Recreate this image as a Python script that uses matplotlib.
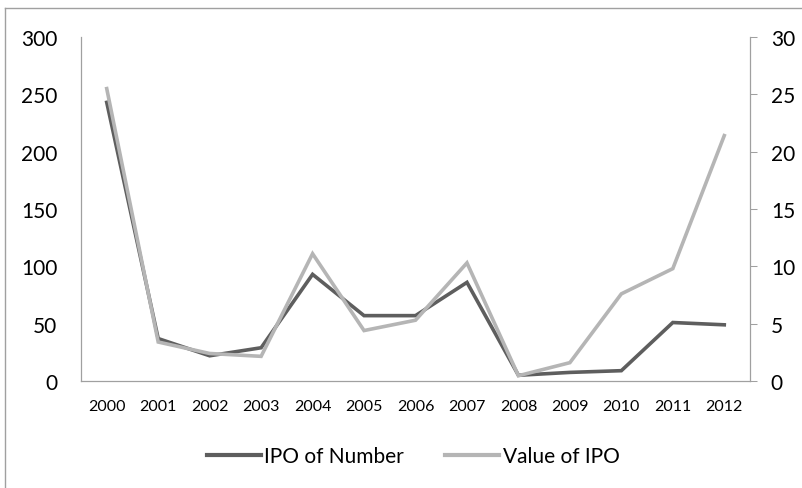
import matplotlib
matplotlib.use("Agg")
import matplotlib.pyplot as plt
from matplotlib.lines import Line2D

plt.rcParams['font.family'] = ['Lato', 'DejaVu Sans']

years = ["2000", "2001", "2002", "2003", "2004", "2005", "2006",
         "2007", "2008", "2009", "2010", "2011", "2012"]
ipo_number = [243, 37, 22, 29, 93, 57, 57, 86, 5, 7.5, 9, 51, 49]
ipo_value = [25.5, 3.4, 2.4, 2.15, 11.1, 4.4, 5.3, 10.3, 0.46, 1.6, 7.6, 9.8, 21.4]
left_ticks = [0, 50, 100, 150, 200, 250, 300]
right_ticks = [0, 5, 10, 15, 20, 25, 30]

dark = "#5e5e5e"
light = "#b5b5b5"
spine_c = "#a0a0a0"

W, H = 803, 489
fig = plt.figure(figsize=(W / 100, H / 100), dpi=100)
ax = fig.add_axes([81 / W, 1 - 382 / H, (750 - 81) / W, (382 - 38) / H])
ax2 = ax.twinx()

x = list(range(len(years)))
l1, = ax.plot(x, ipo_number, color=dark, lw=2.6, solid_joinstyle='miter',
              label="IPO of Number")
l2, = ax2.plot(x, ipo_value, color=light, lw=2.6, solid_joinstyle='miter',
               label="Value of IPO")

ax.set_xlim(-0.5, len(years) - 0.5)
ax.set_ylim(0, 300)
ax2.set_ylim(0, 30)
ax.set_xticks(x)
ax.set_xticklabels(years, fontsize=11.5)
ax.set_yticks(left_ticks)
ax.set_yticklabels([str(v) for v in left_ticks], fontsize=15)
ax2.set_yticks(right_ticks)
ax2.set_yticklabels([str(v) for v in right_ticks], fontsize=15)

ax.tick_params(axis='x', length=0, pad=13)
ax.tick_params(axis='y', length=0, pad=17)
ax2.tick_params(axis='y', length=5, width=0.75, color=spine_c, pad=10, direction='out')

for a in (ax, ax2):
    a.spines['top'].set_visible(False)
    for s in ('left', 'right', 'bottom'):
        a.spines[s].set_color(spine_c)
        a.spines[s].set_linewidth(0.9)
ax.spines['right'].set_visible(False)
ax2.spines['left'].set_visible(False)
ax2.spines['bottom'].set_visible(False)

# outer chart frame (cropped)
fig.add_artist(Line2D([5 / W, 5 / W], [0, 1 - 8.5 / H], transform=fig.transFigure,
                      color=spine_c, lw=1))
fig.add_artist(Line2D([5 / W, 1], [1 - 8.5 / H, 1 - 8.5 / H], transform=fig.transFigure,
                      color=spine_c, lw=1))

leg = fig.legend(handles=[l1, l2], loc='center', bbox_to_anchor=(413 / W, 1 - 457 / H),
                 ncol=2, frameon=False, fontsize=15, handlelength=2.6,
                 handletextpad=0.15, columnspacing=2.0)
for h in leg.get_lines():
    h.set_linewidth(3)

fig.savefig("out.png", dpi=100)
